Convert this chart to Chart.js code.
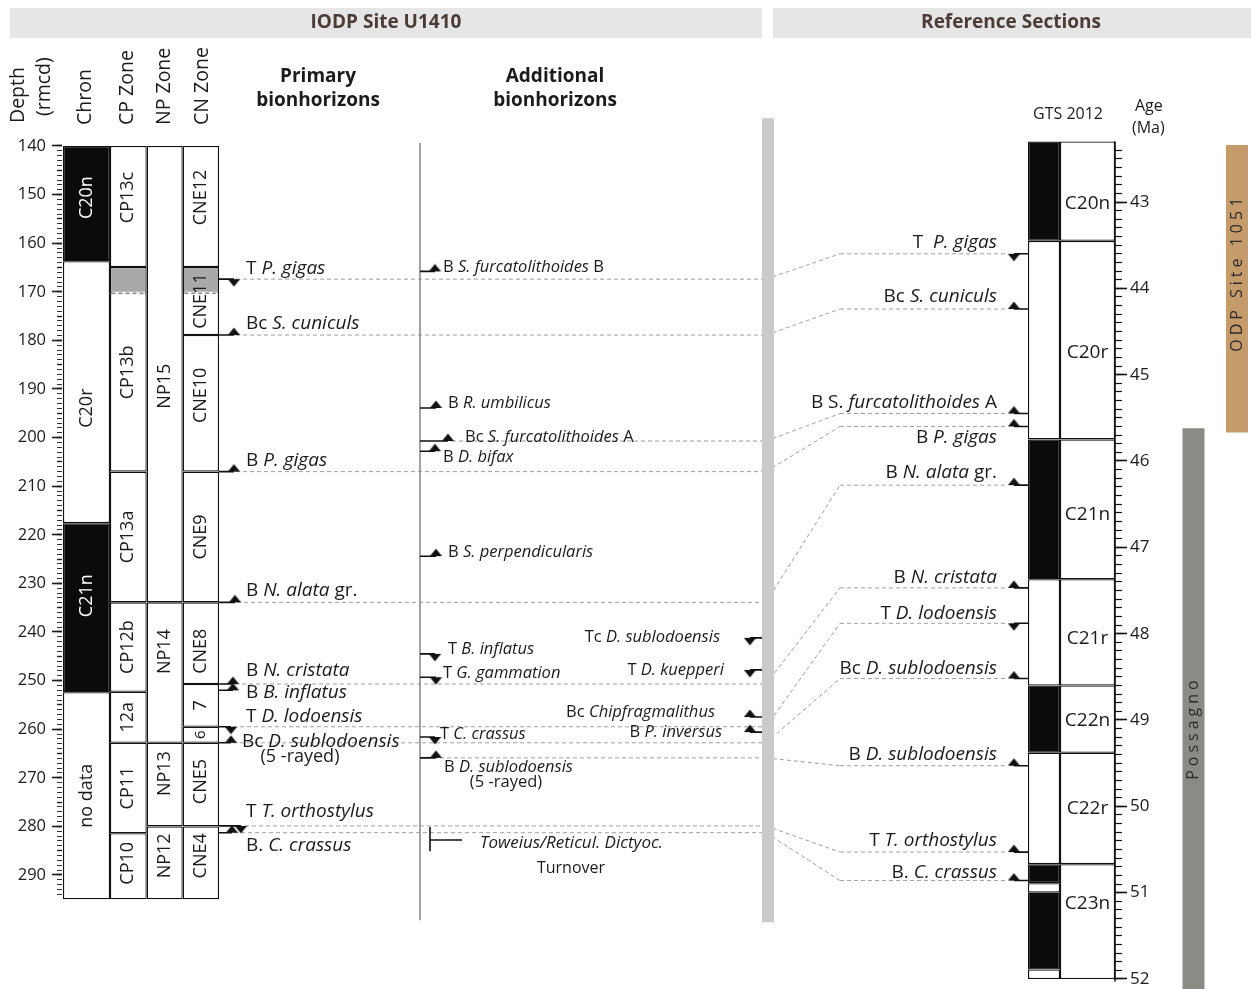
<!DOCTYPE html>
<html>
<head>
<meta charset="utf-8">
<title>IODP Site U1410 – bionhorizons and reference sections</title>
<script src="https://cdn.jsdelivr.net/npm/chart.js@4.4.1/dist/chart.umd.min.js"></script>
<style>
html,body{margin:0;padding:0;background:#fff;}
#wrap{width:1251px;height:989px;position:relative;}
canvas{display:block;}
</style>
</head>
<body>
<div id="wrap"><canvas id="chart" width="1251" height="989"></canvas></div>
<script>
// ======================= DATA =======================
const depthLabels = [140,150,160,170,180,190,200,210,220,230,240,250,260,270,280,290];
const ageLabels   = [43,44,45,46,47,48,49,50,51,52];

// IODP Site U1410 columns (depth, rmcd)
const chronNames  = ['C20n','C20r','C21n','no data'];
const chronTop    = [140.0,163.7,217.6,252.4];
const chronBase   = [163.7,217.6,252.4,295.0];
const chronNormal = [1,0,1,0];

const cpNames = ['CP13c','','CP13b','CP13a','CP12b','12a','CP11','CP10'];
const cpTop   = [140.0,164.9,170.3,207.0,233.9,252.3,262.8,281.4];
const cpBase  = [164.9,170.3,207.0,233.9,252.3,262.8,281.4,295.0];
const cpGrey  = [0,1,0,0,0,0,0,0];

const npNames = ['NP15','NP14','NP13','NP12'];
const npTop   = [140.0,233.9,262.8,280.0];
const npBase  = [233.9,262.8,280.0,295.0];

const cnNames = ['CNE12','CNE11','CNE10','CNE9','CNE8','7','6','CNE5','CNE4'];
const cnTop   = [140.0,164.9,178.9,207.0,233.9,250.7,259.5,262.8,280.0];
const cnBase  = [164.9,178.9,207.0,233.9,250.7,259.5,262.8,280.0,295.0];
const cnGreyTop  = [164.9];
const cnGreyBase = [170.3];

// Primary bionhorizons  (|...| = italic)
const primaryNames = ['T |P. gigas|','Bc |S. cuniculs|','B |P. gigas|','B |N. alata| gr.','B |N. cristata|','B |B. inflatus|','T |D. lodoensis|','Bc |D. sublodoensis|','T |T. orthostylus|','B. |C. crassus|'];
const primaryDepth = [167.4,178.9,207.0,233.9,250.7,252.0,259.5,262.8,279.9,281.3];
const primaryType  = ['T','B','B','B','B','B','T','B','T','B'];

// Additional bionhorizons
const additionalNames = ['B |S. furcatolithoides| B','B |R. umbilicus|','Bc |S. furcatolithoides| A','B |D. bifax|','B |S. perpendicularis|','T |B. inflatus|','T |G. gammation|','T |C. crassus|','B |D. sublodoensis|'];
const additionalDepth = [165.8,193.9,200.7,202.8,224.4,244.5,249.3,261.6,265.9];
const additionalType  = ['B','B','B','B','B','T','T','T','B'];

const extraNames = ['Tc |D. sublodoensis|','T |D. kuepperi|','Bc |Chipfragmalithus|','B |P. inversus|'];
const extraDepth = [241.2,247.8,257.5,260.6];
const extraType  = ['T','T','B','B'];

const turnoverRange = [280.1,285.1];
const turnoverDepth = 282.8;

// GTS 2012 (age, Ma)
const gtsChrons = ['C20n','C20r','C21n','C21r','C22n','C22r','C23n'];
const gtsTop    = [42.30,43.45,45.75,47.37,48.60,49.38,50.67];
const gtsBase   = [43.45,45.75,47.37,48.60,49.38,50.67,52.00];
const polTop    = [42.30,43.45,45.75,47.37,48.60,49.38,50.67,50.89,51.00,51.89];
const polBase   = [43.45,45.75,47.37,48.60,49.38,50.67,50.89,51.00,51.89,52.00];
const polNormal = [1,0,1,0,1,0,1,0,1,0];

// Reference-section bionhorizons and their U1410 equivalents
const refNames = ['T  |P. gigas|','Bc |S. cuniculs|','B S. |furcatolithoides| A','B |P. gigas|','B |N. alata| gr.','B |N. cristata|','T |D. lodoensis|','Bc |D. sublodoensis|','B |D. sublodoensis|','T |T. orthostylus|','B. |C. crassus|'];
const refAge   = [43.60,44.24,45.45,45.60,46.28,47.47,47.88,48.52,49.53,50.53,50.86];
const refType  = ['T','B','B','B','B','B','T','B','B','B','B'];
const refU1410Depth = [167.4,178.9,200.7,207.0,233.9,250.7,259.5,262.8,265.9,279.9,281.3];

const sectionNames = ['ODP Site 1051','Possagno'];
const sectionTop   = [42.34,45.62];
const sectionBase  = [45.67,52.15];

// ======================= LAYOUT / STYLE =======================
const FONT = '"Open Sans", "DejaVu Sans", sans-serif';
const INK = '#1c1a1a';
const LAY = {
  top:118, bottom:989, left:62, right:1115,
  depthMin:134.239, depthMax:313.457, ageMin:42.027, ageMax:52.116,
  chronX:[63,110], cpX:[110,146.7], npX:[146.7,182.7], cnX:[182.7,219],
  polX:[1028,1060], gtsX:[1060,1115], ageAxisX:1115,
  sectX:[1237,1193.5], sectW:22,
  sepX:[762,774], sepDepth:[134.3,299.7],
  addLineX:420, addLineDepth:[139.4,299.3],
  chronDy:[-6,16,-12,0], cpDy:[-9,0,-10,0,0,0,0,-3], npDy:[12,-21,-11,-7],
  cnDy:[-9,0,-8,0,8,0,0,-3,-7], gtsDy:[12,12,5,6,1,0,-18], sectDy:[-16,18],
  prim:{stub:219, triX:[234,234,234,235,233,233,231,231,241,232], labX:[246,246,246,246,246,246,246,242,246,246],
        labDy:[-11,-11,-11,-12,-13,2,-10,-1,-14,13], size:19},
  add:{stub:420, triX:[435,436,448,435,436,435,436,435,436], labX:[443,448,465,443,448,448,443,440,444],
       labDy:[-4,-5,-4,6,-4,-5,-4,-3,9], size:16.5},
  extra:{triX:750, stub:762, labR:[720,724,715,722], labDy:[-1,0,-5,0], size:16.5},
  ref:{triX:1014, stub:1028, labR:997, labDy:[-11,-12,-11,11,-13,-10,-10,-10,-11,-11,-8], size:19,
       dashStart:[236,236,452,236,237,235,233,233,440,245,234], diagStart:766, diagEnd:840, dashEnd:1008},
  turn:{x:430, x2:462, labX:480},
  colBorder:1.3
};

// ======================= HELPERS =======================
function makeTri(up){
  const c = document.createElement('canvas'); c.width = 13; c.height = 16;
  const g = c.getContext('2d'); g.fillStyle = '#111'; g.beginPath();
  if (up){ g.moveTo(6.5,0.6); g.lineTo(12.6,8); g.lineTo(0.4,8); }
  else   { g.moveTo(0.4,8); g.lineTo(12.6,8); g.lineTo(6.5,15.4); }
  g.closePath(); g.fill(); return c;
}
const triUp = makeTri(true), triDown = makeTri(false);
const mid = r => (r[0]+r[1])/2, wid = r => r[1]-r[0];

function segData(segs){
  const out = [];
  segs.forEach((s,i)=>{ if(i) out.push({x:null,y:null}); out.push({x:s[0],y:s[1]},{x:s[2],y:s[3]}); });
  return out;
}
function lineDS(label, axis, data, o){
  return {type:'line', label, yAxisID:axis, data, borderColor:o.color, borderWidth:o.width,
    borderDash:o.dash||[], pointRadius:0, fill:false, tension:0, spanGaps:false, order:o.order, clip:false};
}
function colBars(label, range, tops, bases, fills, axis, order, extra){
  return Object.assign({type:'bar', label, yAxisID:axis, stack:'cols', order, clip:false,
    barThickness: wid(range), grouped:true, inflateAmount:0,
    data: tops.map((t,i)=>({x:mid(range), y:[t,bases[i]]})),
    backgroundColor: fills, borderColor:'#111', borderWidth:LAY.colBorder, borderSkipped:false}, extra||{});
}
function triDS(label, axis, xs, ys, types, order){
  return {type:'scatter', label, yAxisID:axis, data: ys.map((y,i)=>({x:xs[i], y})),
    pointStyle: types.map(t=> t==='T'?triDown:triUp), pointRadius:5, showLine:false, order, clip:false};
}
const arr = (v,n) => Array.from({length:n},()=>v);

// ======================= DATASETS =======================
const datasets = [];
datasets.push(lineDS('corrLeft','yD', segData(refU1410Depth.map((d,i)=>[LAY.ref.dashStart[i],d,LAY.sepX[0],d])), {color:'#a0a0a0',width:1,dash:[4,3],order:30}));
datasets.push(lineDS('corrRight','yA', segData(refAge.map(a=>[LAY.ref.diagEnd,a,LAY.ref.dashEnd,a])), {color:'#a0a0a0',width:1,dash:[4,3],order:30}));
datasets.push(colBars('separator', LAY.sepX, [LAY.sepDepth[0]], [LAY.sepDepth[1]], ['#cbc9c9'], 'yD', 28, {borderWidth:0}));
datasets.push(lineDS('addLine','yD', segData([[LAY.addLineX,LAY.addLineDepth[0],LAY.addLineX,LAY.addLineDepth[1]]]), {color:'#858585',width:1.5,order:27}));
datasets.push(colBars('Chron', LAY.chronX, chronTop, chronBase, chronNormal.map(n=>n?'#0b0b0b':'#ffffff'), 'yD', 20));
datasets.push(colBars('CP Zone', LAY.cpX, cpTop, cpBase, cpGrey.map(g=>g?'#a9a9a9':'#ffffff'), 'yD', 20));
datasets.push(colBars('NP Zone', LAY.npX, npTop, npBase, arr('#ffffff',npTop.length), 'yD', 20));
datasets.push(colBars('CN Zone', LAY.cnX, cnTop, cnBase, arr('#ffffff',cnTop.length), 'yD', 20));
datasets.push(colBars('CN uncertain', LAY.cnX, cnGreyTop, cnGreyBase, ['#a9a9a9'], 'yD', 19));
const dashBase = [[LAY.cpX[0]+1.5,cpBase[1],LAY.cpX[1]-1.5,cpBase[1]],[LAY.cnX[0]+1.5,cnGreyBase[0],LAY.cnX[1]-1.5,cnGreyBase[0]]];
datasets.push(lineDS('uncWhite','yD', segData(dashBase), {color:'#ffffff',width:3,order:18}));
datasets.push(lineDS('uncDash','yD', segData(dashBase), {color:'#8a8a8a',width:1.5,dash:[4,3],order:17}));
datasets.push(colBars('Polarity', LAY.polX, polTop, polBase, polNormal.map(n=>n?'#0b0b0b':'#ffffff'), 'yA', 20));
datasets.push(colBars('GTS 2012', LAY.gtsX, gtsTop, gtsBase, arr('#ffffff',gtsTop.length), 'yA', 20));
datasets.push(lineDS('ageAxis','yA', segData([[LAY.ageAxisX,gtsTop[0],LAY.ageAxisX,gtsBase[gtsBase.length-1]+0.03]]), {color:'#111',width:1.6,order:9}));
datasets.push({type:'bar', label:'Sections', yAxisID:'yA', stack:'cols', order:20, clip:false, barThickness:LAY.sectW, grouped:true, inflateAmount:0,
  data: sectionTop.map((t,i)=>({x:LAY.sectX[i], y:[t,sectionBase[i]]})), backgroundColor:['#c59b6c','#8b8b85'], borderWidth:0, borderSkipped:false});
datasets.push(lineDS('primStub','yD', segData(primaryDepth.map((d,i)=>[LAY.prim.stub,d,LAY.prim.triX[i],d])), {color:'#111',width:1.6,order:10}));
datasets.push(lineDS('addStub','yD', segData(additionalDepth.map((d,i)=>[LAY.add.stub,d,LAY.add.triX[i],d])), {color:'#111',width:1.6,order:10}));
datasets.push(lineDS('extraStub','yD', segData(extraDepth.map(d=>[LAY.extra.triX,d,LAY.extra.stub,d])), {color:'#111',width:1.6,order:10}));
datasets.push(lineDS('refStub','yA', segData(refAge.map(a=>[LAY.ref.triX,a,LAY.ref.stub,a])), {color:'#111',width:1.6,order:10}));
datasets.push(lineDS('turnover','yD', segData([[LAY.turn.x,turnoverRange[0],LAY.turn.x,turnoverRange[1]],[LAY.turn.x,turnoverDepth,LAY.turn.x2,turnoverDepth]]), {color:'#111',width:1.6,order:10}));
datasets.push(triDS('primTri','yD', LAY.prim.triX, primaryDepth, primaryType, 5));
datasets.push(triDS('addTri','yD', LAY.add.triX, additionalDepth, additionalType, 5));
datasets.push(triDS('extraTri','yD', arr(LAY.extra.triX,extraDepth.length), extraDepth, extraType, 5));
datasets.push(triDS('refTri','yA', arr(LAY.ref.triX,refAge.length), refAge, refType, 5));

// ======================= TEXT PLUGIN =======================
function rich(ctx, str, x, y, size, align, color){
  const parts = str.split('|');
  const fonts = parts.map((p,i)=> (i%2 ? 'italic ' : '') + size + 'px ' + FONT);
  const w = parts.map((p,i)=>{ ctx.font = fonts[i]; return ctx.measureText(p).width; });
  const total = w.reduce((a,b)=>a+b,0);
  let x0 = align==='right' ? x-total : align==='center' ? x-total/2 : x;
  ctx.fillStyle = color || INK; ctx.textAlign = 'left'; ctx.textBaseline = 'middle';
  parts.forEach((p,i)=>{ ctx.font = fonts[i]; ctx.fillText(p, x0, y); x0 += w[i]; });
}
function rot(ctx, txt, x, y, font, color, align, spacing){
  ctx.save(); ctx.translate(x,y); ctx.rotate(-Math.PI/2);
  ctx.font = font; ctx.fillStyle = color || INK; ctx.textAlign = align || 'center'; ctx.textBaseline = 'middle';
  if (spacing) ctx.letterSpacing = spacing;
  ctx.fillText(txt, 0, 0); ctx.restore();
}

const decor = {
  id:'decor',
  beforeDraw(chart){
    const ctx = chart.ctx; ctx.save();
    ctx.fillStyle = '#e6e6e6';
    ctx.fillRect(10,8,752,30); ctx.fillRect(773,8,478,30);
    ctx.fillStyle = '#4b3c35'; ctx.font = 'bold 19px ' + FONT; ctx.textAlign = 'center'; ctx.textBaseline = 'middle';
    ctx.fillText('IODP Site U1410', 386, 23);
    ctx.fillText('Reference Sections', 1011, 23);
    const hf = '19.5px ' + FONT;
    rot(ctx,'Depth',18,123,hf,INK,'left');
    rot(ctx,'(rmcd)',44,116,hf,INK,'left');
    rot(ctx,'Chron',85,125,hf,INK,'left');
    rot(ctx,'CP Zone',127,125,hf,INK,'left');
    rot(ctx,'NP Zone',164,125,hf,INK,'left');
    rot(ctx,'CN Zone',202,125,hf,INK,'left');
    ctx.fillStyle = INK; ctx.font = 'bold 19px ' + FONT; ctx.textAlign = 'center';
    ctx.fillText('Primary',318,77); ctx.fillText('bionhorizons',318,101);
    ctx.fillText('Additional',555,77); ctx.fillText('bionhorizons',555,101);
    ctx.font = '16px ' + FONT;
    ctx.fillText('GTS 2012',1068,114);
    ctx.textAlign = 'left';
    ctx.fillText('Age',1135,106); ctx.fillText('(Ma)',1132,128);
    ctx.restore();
  },
  beforeDatasetsDraw(chart){
    const {ctx, scales} = chart; ctx.save();
    ctx.strokeStyle = '#a0a0a0'; ctx.lineWidth = 1; ctx.setLineDash([4,3]);
    refAge.forEach((a,i)=>{
      ctx.beginPath();
      ctx.moveTo(scales.x.getPixelForValue(LAY.ref.diagStart), scales.yD.getPixelForValue(refU1410Depth[i]));
      ctx.lineTo(scales.x.getPixelForValue(LAY.ref.diagEnd), scales.yA.getPixelForValue(a));
      ctx.stroke();
    });
    ctx.restore();
  },
  afterDatasetsDraw(chart){
    const {ctx, scales} = chart; const X = v => scales.x.getPixelForValue(v);
    const yD = v => scales.yD.getPixelForValue(v), yA = v => scales.yA.getPixelForValue(v);
    ctx.save();
    const zf = '18px ' + FONT;
    const zone = (names, tops, bases, range, dys, fill, yf, font) => names.forEach((n,i)=>{
      if(!n) return;
      const y = (yf(tops[i]) + yf(bases[i]))/2 + dys[i];
      rot(ctx, n, X(mid(range)), y, (font && font(n)) || zf, fill ? fill(i) : INK);
    });
    zone(chronNames, chronTop, chronBase, LAY.chronX, LAY.chronDy, i=> chronNormal[i] ? '#ffffff' : INK, yD);
    zone(cpNames, cpTop, cpBase, LAY.cpX, LAY.cpDy, null, yD);
    zone(npNames, npTop, npBase, LAY.npX, LAY.npDy, null, yD);
    zone(cnNames, cnTop, cnBase, LAY.cnX, LAY.cnDy, null, yD, n => n==='6' ? '15px '+FONT : null);
    ctx.font = '19px ' + FONT; ctx.fillStyle = INK; ctx.textAlign = 'center'; ctx.textBaseline = 'middle';
    gtsChrons.forEach((n,i)=> ctx.fillText(n, X(mid(LAY.gtsX)), (yA(gtsTop[i])+yA(gtsBase[i]))/2 + LAY.gtsDy[i]));
    sectionNames.forEach((n,i)=> rot(ctx, n, X(LAY.sectX[i]), (yA(sectionTop[i])+yA(sectionBase[i]))/2 + LAY.sectDy[i], '16px '+FONT, '#2b2b2b', 'center', '4px'));
    primaryNames.forEach((n,i)=> rich(ctx, n, X(LAY.prim.labX[i]), yD(primaryDepth[i]) + LAY.prim.labDy[i], LAY.prim.size, 'left'));
    rich(ctx, '(5 -rayed)', X(300), yD(primaryDepth[7]) + 14, 18, 'center');
    additionalNames.forEach((n,i)=> rich(ctx, n, X(LAY.add.labX[i]), yD(additionalDepth[i]) + LAY.add.labDy[i], LAY.add.size, 'left'));
    rich(ctx, '(5 -rayed)', X(506), yD(additionalDepth[8]) + 24, 16.5, 'center');
    extraNames.forEach((n,i)=> rich(ctx, n, X(LAY.extra.labR[i]), yD(extraDepth[i]) + LAY.extra.labDy[i], LAY.extra.size, 'right'));
    rich(ctx, '|Toweius/Reticul. Dictyoc.|', X(LAY.turn.labX), yD(turnoverDepth) + 3, 17, 'left');
    rich(ctx, 'Turnover', X(571), yD(turnoverDepth) + 28, 16, 'center');
    refNames.forEach((n,i)=> rich(ctx, n, X(LAY.ref.labR), yA(refAge[i]) + LAY.ref.labDy[i], LAY.ref.size, 'right'));
    ctx.restore();
  }
};

// ======================= TICKS =======================
const depthTicks = []; for (let d = depthLabels[0]; d <= 294; d++) depthTicks.push(d);
const ageTicks = []; for (let t = 424; t <= 520; t++) ageTicks.push(t/10);
const isMajorAge = v => Math.abs(v - Math.round(v)) < 1e-6;
const noPad = s => { s.paddingTop = 0; s.paddingBottom = 0; s.paddingLeft = 0; s.paddingRight = 0; };

Chart.defaults.font.family = FONT;
new Chart(document.getElementById('chart'), {
  type:'scatter',
  data:{datasets},
  plugins:[decor],
  options:{
    responsive:false, animation:false, events:[],
    layout:{autoPadding:false, padding:{top:LAY.top, bottom:989-LAY.bottom, left:0, right:0}},
    plugins:{legend:{display:false}, tooltip:{enabled:false}, title:{display:false}},
    scales:{
      x:{type:'linear', min:LAY.left, max:LAY.right, display:false, offset:false},
      yD:{type:'linear', position:'left', weight:1, reverse:true, min:LAY.depthMin, max:LAY.depthMax, stacked:false, offset:false,
        border:{display:false},
        grid:{drawOnChartArea:false, drawTicks:true, tickLength:5, tickColor:'#1c1a1a',
              tickWidth: c => (c.tick && c.tick.value % 5 === 0) ? 1.4 : 0.9},
        ticks:{autoSkip:false, padding:11, color:INK, font:{family:FONT, size:16.5},
               callback: v => depthLabels.includes(v) ? String(v) : ''},
        afterBuildTicks: s => { s.ticks = depthTicks.map(v=>({value:v})); },
        afterFit: s => { s.width = LAY.left; noPad(s); }
      },
      yD2:{type:'linear', position:'left', weight:0, reverse:true, min:LAY.depthMin, max:LAY.depthMax, stacked:false, offset:false,
        border:{display:false},
        grid:{drawOnChartArea:false, drawTicks:true, tickLength:10, tickColor:'#1c1a1a', tickWidth:1.6},
        ticks:{autoSkip:false, padding:0, callback: () => ''},
        afterBuildTicks: s => { s.ticks = depthLabels.map(v=>({value:v})); },
        afterFit: s => { s.width = 0; noPad(s); }
      },
      yA:{type:'linear', position:'right', weight:1, reverse:true, min:LAY.ageMin, max:LAY.ageMax, stacked:false, offset:false,
        border:{display:false},
        grid:{drawOnChartArea:false, drawTicks:true, tickLength:7, tickColor:'#111', tickWidth:1.2},
        ticks:{autoSkip:false, padding:8, color:INK, font:{family:FONT, size:17},
               callback: v => isMajorAge(v) && ageLabels.includes(Math.round(v)) ? String(Math.round(v)) : ''},
        afterBuildTicks: s => { s.ticks = ageTicks.map(v=>({value:v})); },
        afterFit: s => { s.width = 1251 - LAY.right; noPad(s); }
      },
      yA2:{type:'linear', position:'right', weight:0, reverse:true, min:LAY.ageMin, max:LAY.ageMax, stacked:false, offset:false,
        border:{display:false},
        grid:{drawOnChartArea:false, drawTicks:true, tickLength:12, tickColor:'#111', tickWidth:1.6},
        ticks:{autoSkip:false, padding:0, callback: () => ''},
        afterBuildTicks: s => { s.ticks = ageLabels.map(v=>({value:v})); },
        afterFit: s => { s.width = 0; noPad(s); }
      }
    }
  }
});
</script>
</body>
</html>
